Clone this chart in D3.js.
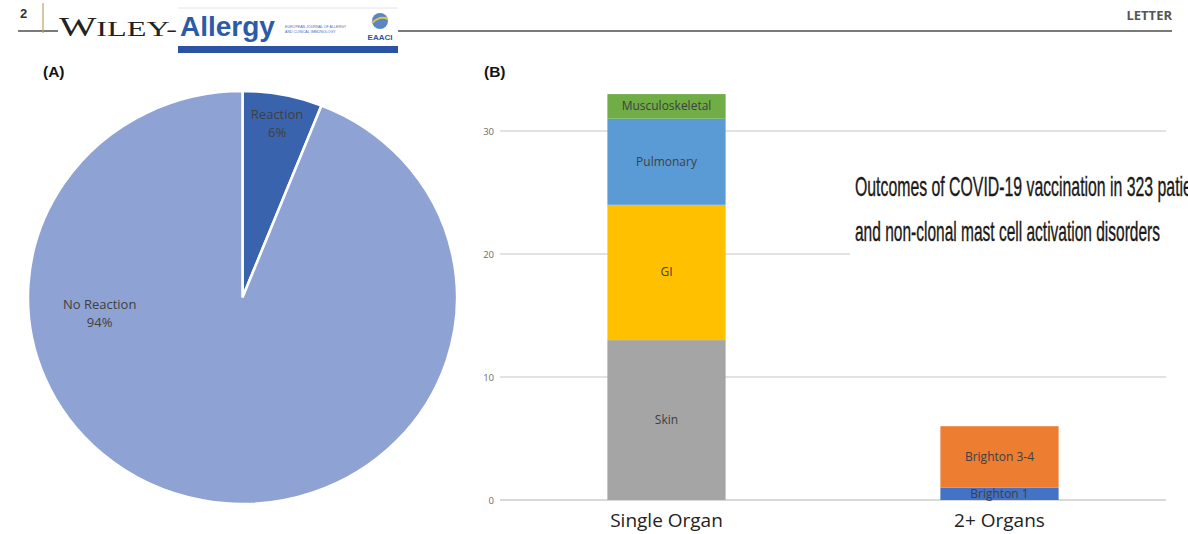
<!DOCTYPE html>
<html>
<head>
<meta charset="utf-8">
<script src="https://cdn.jsdelivr.net/npm/d3@7"></script>
<style>
  html, body { margin: 0; padding: 0; background: #fff; }
  svg { display: block; }
</style>
</head>
<body>
<svg id="page" width="1188" height="534"></svg>
<script>
// ---- data ----
const pieLabels = ["Reaction", "No Reaction"];
const pieValues = [6, 94];
const pieColors = ["#3A63AE", "#8FA2D4"];

const organGroups = ["Single Organ", "2+ Organs"];
const singleOrganSystems = ["Skin", "GI", "Pulmonary", "Musculoskeletal"];
const singleOrganCounts = [13, 11, 7, 2];
const singleOrganColors = ["#A5A5A5", "#FFC000", "#5B9BD5", "#70AD47"];
const multiOrganGrades = ["Brighton 1", "Brighton 3-4"];
const multiOrganCounts = [1, 5];
const multiOrganColors = ["#4472C4", "#ED7D31"];
const yTicks = [0, 10, 20, 30];

const titleLines = [
  "Outcomes of COVID-19 vaccination in 323 patients",
  "and non-clonal mast cell activation disorders"
];

const svg = d3.select("#page");

// ---- journal page header ----
const hdr = svg.append("g");
hdr.append("line").attr("x1", 18).attr("x2", 1172).attr("y1", 31).attr("y2", 31)
  .attr("stroke", "#7a7a7a").attr("stroke-width", 2);
hdr.append("line").attr("x1", 43).attr("x2", 43).attr("y1", 3).attr("y2", 33)
  .attr("stroke", "#b8a36a").attr("stroke-width", 1.2);
hdr.append("text").attr("x", 20).attr("y", 18).text("2")
  .attr("font-family", "Liberation Sans, Arial, sans-serif").attr("font-weight", "bold")
  .attr("font-size", 13).attr("fill", "#333");
// logo block background so the rule stops behind it
hdr.append("rect").attr("x", 58).attr("y", 8).attr("width", 340).attr("height", 46).attr("fill", "#fff");
hdr.append("line").attr("x1", 178).attr("x2", 398).attr("y1", 8).attr("y2", 8)
  .attr("stroke", "#e4e4e4").attr("stroke-width", 1);
const wiley = hdr.append("text").attr("x", 59).attr("y", 36)
  .attr("font-family", "Liberation Serif, DejaVu Serif, serif").attr("fill", "#222")
  .attr("textLength", 118).attr("lengthAdjust", "spacingAndGlyphs");
wiley.append("tspan").attr("font-size", 27).text("W");
wiley.append("tspan").attr("font-size", 22).text("ILEY-");
hdr.append("text").attr("x", 180).attr("y", 36).text("Allergy")
  .attr("font-family", "Liberation Sans, Arial, sans-serif").attr("font-weight", "bold")
  .attr("font-size", 28).attr("fill", "#2B5BA8");
hdr.append("rect").attr("x", 178).attr("y", 46).attr("width", 220).attr("height", 7).attr("fill", "#2B53A4");
hdr.append("text").attr("x", 285).attr("y", 28).text("EUROPEAN JOURNAL OF ALLERGY")
  .attr("font-family", "Liberation Sans, Arial, sans-serif").attr("font-size", 3.6).attr("fill", "#4a6bb0");
hdr.append("text").attr("x", 285).attr("y", 33).text("AND CLINICAL IMMUNOLOGY")
  .attr("font-family", "Liberation Sans, Arial, sans-serif").attr("font-size", 3.6).attr("fill", "#4a6bb0");
hdr.append("circle").attr("cx", 380).attr("cy", 21).attr("r", 8).attr("fill", "#5b86c4");
hdr.append("path").attr("d", "M372,23 Q380,15 388,19").attr("stroke", "#e0c34a").attr("stroke-width", 2).attr("fill", "none");
hdr.append("text").attr("x", 380).attr("y", 40).attr("text-anchor", "middle").text("EAACI")
  .attr("font-family", "Liberation Sans, Arial, sans-serif").attr("font-weight", "bold")
  .attr("font-size", 8).attr("fill", "#2B53A4");
hdr.append("text").attr("x", 1172).attr("y", 20).attr("text-anchor", "end").text("LETTER")
  .attr("font-family", "Open Sans, Liberation Sans, sans-serif").attr("font-weight", "bold")
  .attr("font-size", 13).attr("fill", "#555");

// ---- panel letters ----
[["(A)", 43], ["(B)", 484]].forEach(([t, x]) => {
  svg.append("text").attr("x", x).attr("y", 77).text(t)
    .attr("font-family", "Liberation Sans, Arial, sans-serif").attr("font-weight", "bold")
    .attr("font-size", 15.5).attr("fill", "#111");
});

// ---- panel A: pie ----
const pieCx = 242.5, pieCy = 297.5, pieR = 206.5, pieStretch = 1.039;
const pieData = d3.pie().sort(null).value(d => d.value)(
  pieLabels.map((l, i) => ({ label: l, value: pieValues[i], color: pieColors[i] })));
const arc = d3.arc().innerRadius(0).outerRadius(pieR);
const pieG = svg.append("g").attr("transform", `translate(${pieCx},${pieCy}) scale(${pieStretch},1)`);
pieG.selectAll("path").data(pieData).join("path")
  .attr("d", arc).attr("fill", d => d.data.color)
  .attr("stroke", "#fff").attr("stroke-width", 2.5);

// label placement: angle (radians from 12 o'clock) and radius fraction per slice
const labelPlacement = [null, { angle: -96.5 * Math.PI / 180, frac: 0.67 }];
pieData.forEach((d, i) => {
  let x, y;
  if (labelPlacement[i]) {
    const p = labelPlacement[i];
    x = Math.sin(p.angle) * pieR * p.frac * pieStretch;
    y = -Math.cos(p.angle) * pieR * p.frac;
  } else {
    const a = (d.startAngle + d.endAngle) / 2;
    x = Math.sin(a) * pieR * 0.86 * pieStretch;
    y = -Math.cos(a) * pieR * 0.86;
  }
  const t = svg.append("text")
    .attr("transform", `translate(${pieCx + x},${pieCy + y})`)
    .attr("text-anchor", "middle")
    .attr("font-family", "Open Sans, Liberation Sans, sans-serif")
    .attr("font-size", 13).attr("fill", "#3f3f3f");
  t.append("tspan").attr("x", 0).attr("y", -4).text(d.data.label);
  t.append("tspan").attr("x", 0).attr("y", 14).text(d.data.value + "%");
});

// ---- panel B: stacked bars ----
const plotLeft = 500, plotRight = 1166;
const x = d3.scaleBand().domain(organGroups).range([plotLeft, plotRight])
  .paddingInner(0.645).paddingOuter(0.3225);
const y = d3.scaleLinear().domain([0, 30]).range([500, 131]);

const grid = svg.append("g");
grid.selectAll("line").data(yTicks).join("line")
  .attr("x1", plotLeft).attr("x2", plotRight)
  .attr("y1", d => y(d)).attr("y2", d => y(d))
  .attr("stroke", "#d9d9d9").attr("stroke-width", d => d === 0 ? 2 : 1.5);
grid.selectAll("text").data(yTicks).join("text")
  .attr("x", 494).attr("y", d => y(d) + 3.5).attr("text-anchor", "end")
  .attr("font-family", "Open Sans, Liberation Sans, sans-serif")
  .attr("font-size", 9.5).attr("fill", "#6b6b6b").text(d => d);

function stackSegments(group, names, counts, colors) {
  let base = 0;
  return names.map((n, i) => {
    const s = { group, name: n, y0: base, y1: base + counts[i], color: colors[i] };
    base += counts[i];
    return s;
  });
}
const segments = [
  ...stackSegments(organGroups[0], singleOrganSystems, singleOrganCounts, singleOrganColors),
  ...stackSegments(organGroups[1], multiOrganGrades, multiOrganCounts, multiOrganColors)
];

const bars = svg.append("g");
bars.selectAll("rect").data(segments).join("rect")
  .attr("x", d => x(d.group)).attr("width", x.bandwidth())
  .attr("y", d => y(d.y1)).attr("height", d => y(d.y0) - y(d.y1))
  .attr("fill", d => d.color);
bars.selectAll("text").data(segments).join("text")
  .attr("x", d => x(d.group) + x.bandwidth() / 2)
  .attr("y", d => (y(d.y0) + y(d.y1)) / 2 + 4)
  .attr("text-anchor", "middle")
  .attr("font-family", "Open Sans, Liberation Sans, sans-serif")
  .attr("font-size", 12).attr("fill", "#404040").text(d => d.name);

svg.append("g").selectAll("text").data(organGroups).join("text")
  .attr("x", d => x(d) + x.bandwidth() / 2).attr("y", 527)
  .attr("text-anchor", "middle")
  .attr("font-family", "Open Sans, Liberation Sans, sans-serif")
  .attr("font-size", 19).attr("fill", "#222").text(d => d);

// ---- chart title box ----
svg.append("rect").attr("x", 850).attr("y", 150).attr("width", 338).attr("height", 110).attr("fill", "#fff");
const titleG = svg.append("g")
  .attr("font-family", "Liberation Sans Narrow, Liberation Sans, Arial, sans-serif")
  .attr("font-size", 28).attr("fill", "#1a1a1a")
  .attr("stroke", "#1a1a1a").attr("stroke-width", 0.4);
titleG.append("text").attr("x", 855).attr("y", 196).text(titleLines[0])
  .attr("textLength", 358).attr("lengthAdjust", "spacingAndGlyphs");
titleG.append("text").attr("x", 855).attr("y", 241).text(titleLines[1])
  .attr("textLength", 305).attr("lengthAdjust", "spacingAndGlyphs");
</script>
</body>
</html>
